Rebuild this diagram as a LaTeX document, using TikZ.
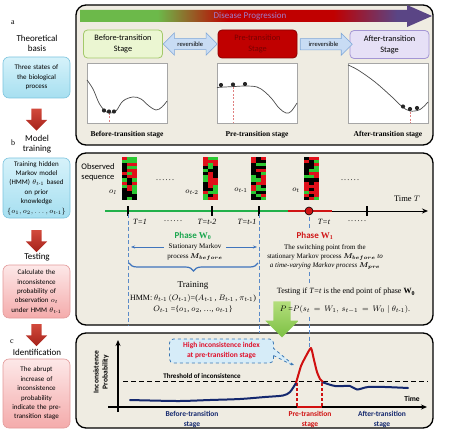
\documentclass[tikz,border=0pt]{standalone}
\usepackage{fontspec}
\setmainfont{Liberation Serif}
\setsansfont{Carlito}
\usepackage{amsmath, amssymb, bm}
\usetikzlibrary{calc,positioning,arrows.meta,shapes.arrows,shapes.callouts,decorations.pathreplacing}

\definecolor{panelbg}{HTML}{EFECE2}
\definecolor{progreen}{HTML}{6CB94A}
\definecolor{prored}{HTML}{C00000}
\definecolor{propurple}{HTML}{5A4585}
\definecolor{progtext}{HTML}{A07CCB}
\definecolor{boxbluetop}{HTML}{D6F2FA}
\definecolor{boxbluebot}{HTML}{A6DFF0}
\definecolor{boxblueline}{HTML}{7CC4DE}
\definecolor{boxpinktop}{HTML}{FDE8E8}
\definecolor{boxpinkbot}{HTML}{F4ABAB}
\definecolor{boxpinkline}{HTML}{E39A9A}
\definecolor{arrowredtop}{HTML}{D24A3C}
\definecolor{arrowredbot}{HTML}{A5221B}
\definecolor{befill}{HTML}{EBF6D2}
\definecolor{beline}{HTML}{A3C96A}
\definecolor{prefill}{HTML}{C00000}
\definecolor{preline}{HTML}{8C0000}
\definecolor{pretext}{HTML}{780000}
\definecolor{afterfill}{HTML}{E6E0F6}
\definecolor{afterline}{HTML}{A496D4}
\definecolor{arrowfill}{HTML}{C8DCF4}
\definecolor{arrowline}{HTML}{7FA7D8}
\definecolor{markpink}{HTML}{E08080}
\definecolor{hmred}{HTML}{E0101A}
\definecolor{hmgreen}{HTML}{2CC832}
\definecolor{axisgreen}{HTML}{22B04A}
\definecolor{axisred}{HTML}{D01414}
\definecolor{dashblue}{HTML}{5A8AC8}
\definecolor{arrowblue}{HTML}{3F74BC}
\definecolor{phasegreen}{HTML}{1AA64E}
\definecolor{phasered}{HTML}{D01818}
\definecolor{greentop}{HTML}{B4DE7C}
\definecolor{greenbot}{HTML}{7CC043}
\definecolor{navyline}{HTML}{14286E}
\definecolor{curvered}{HTML}{D01010}
\definecolor{calloutfill}{HTML}{D6ECF8}
\definecolor{calloutline}{HTML}{3C78B4}
\definecolor{callouttext}{HTML}{E0102A}

\pgfdeclarehorizontalshading{progress}{100bp}{color(0bp)=(progreen); color(36bp)=(progreen); color(46bp)=(prored); color(61bp)=(prored); color(70bp)=(propurple); color(100bp)=(propurple)}

\newcommand{\sixdots}{.\kern1.2pt.\kern1.2pt.\kern1.2pt.\kern1.2pt.\kern1.2pt.}

\begin{document}
\begin{tikzpicture}[%
x=1pt, y=-1pt,
panel/.style={draw=black, line width=1.3pt, fill=panelbg, rounded corners=10pt},
leftbox/.style={rounded corners=6pt, line width=0.6pt, align=center, text width=60pt, inner xsep=3.5pt, inner ysep=2pt, font=\sffamily\fontsize{7}{9.4}\selectfont},
bluebox/.style={leftbox, draw=boxblueline, top color=boxbluetop, bottom color=boxbluebot},
pinkbox/.style={leftbox, draw=boxpinkline, top color=boxpinktop, bottom color=boxpinkbot},
coltitle/.style={font=\sffamily\fontsize{9}{10}\selectfont, align=center},
panelletter/.style={font=\fontsize{8}{9}\selectfont},
redarrow/.style={single arrow, shape border rotate=270, minimum height=22pt, inner sep=5pt, single arrow head extend=5.5pt, top color=arrowredtop, bottom color=arrowredbot},
stagebox/.style={rounded corners=4pt, line width=0.8pt, align=center, minimum height=28pt, minimum width=79pt, font=\sffamily\fontsize{8.3}{11}\selectfont},
linkarrow/.style={draw=arrowline, fill=arrowfill, line width=0.6pt, inner ysep=3pt, inner xsep=1pt, font=\sffamily\fontsize{6.5}{7}\selectfont},
plotframe/.style={draw=gray!70, fill=white, line width=0.5pt},
potential/.style={draw=black!70, line width=0.7pt},
stagemark/.style={draw=markpink, line width=0.5pt, dash pattern=on 2pt off 1.5pt},
stagename/.style={font=\bfseries\fontsize{7.5}{9}\selectfont},
tlabel/.style={font=\itshape\fontsize{8}{9}\selectfont},
dotslabel/.style={font=\fontsize{8}{9}\selectfont},
vdash/.style={draw=dashblue, line width=1pt, dash pattern=on 4pt off 2.5pt},
infoarrow/.style={draw=arrowblue, line width=0.9pt, -{Stealth[length=4pt]}},
phase/.style={font=\sffamily\bfseries\fontsize{9}{10}\selectfont},
note/.style={font=\fontsize{7}{9.3}\selectfont, align=center},
cstage/.style={font=\sffamily\bfseries\fontsize{7.5}{10}\selectfont, align=center},
]
\useasboundingbox (0,0) rectangle (450,433);
%% panels;
\draw[panel] (76,5) rectangle (433,145);
\draw[panel] (76,153) rectangle (433,325);
\draw[panel] (76,333) rectangle (433,428);

%% left column;
\node[panelletter] at (13,23) {a};
\node[coltitle] (basistitle) at (37,43) {Theoretical\\ basis};
\node[bluebox, minimum height=41pt] (basisbox) at (36.5,77.5) {Three states of\\ the biological\\ process};
\node[redarrow] (arrowa) at (36.5,117) {};
\node[panelletter] at (13,143) {b};
\node[coltitle] (modeltitle) at (37,144) {Model\\ training};
\node[bluebox, minimum height=60pt] (modelbox) at (36.5,188) {Training hidden\\ Markov model\\ (HMM) $\theta_{t\text{-}1}$ based\\ on prior\\ knowledge\\ $\{o_1, o_2, \ldots, o_{t\text{-}1}\}$};
\node[redarrow] (arrowb) at (36.5,238.5) {};
\node[coltitle] (testtitle) at (37,257) {Testing};
\node[pinkbox, minimum height=53pt] (testbox) at (36.5,291.5) {Calculate the\\ inconsistence\\ probability of\\ observation $o_t$\\ under HMM $\theta_{t\text{-}1}$};
\node[redarrow] (arrowc) at (36.5,332.5) {};
\node[panelletter] at (12,342) {c};
\node[coltitle] (identtitle) at (37,352) {Identification};
\node[pinkbox, minimum height=69pt] (identbox) at (36.5,393.5) {The abrupt\\ increase of\\ inconsistence\\ probability\\ indicate the pre-\\ transition stage};

%% panel a: progression arrow;
\shade[shading=progress] (80,10) -- (407,10) -- (407,5) -- (432,16) -- (407,27) -- (407,22) -- (80,22) -- cycle;
\node[font=\sffamily\fontsize{9}{10}\selectfont, text=progtext] at (250,16) {Disease Progression};

%% panel a: stages;
\node[stagebox, fill=befill, draw=beline] (before) at (123,44) {Before-transition\\ Stage};
\node[stagebox, fill=prefill, draw=preline, text=pretext] (pre) at (257.5,44) {Pre-transition\\ Stage};
\node[stagebox, fill=afterfill, draw=afterline] (after) at (389.5,44.5) {After-transition\\ Stage};
\node[linkarrow, double arrow, minimum height=54pt, double arrow head extend=5.5pt] (rev) at ($(before.east)!0.5!(pre.west)$) {reversible};
\node[linkarrow, single arrow, minimum height=52pt, single arrow head extend=5.5pt] (irrev) at ($(pre.east)!0.5!(after.west)$) {irreversible};

%% panel a: potential plots;
\foreach \px in {87,217,348} \draw[plotframe] (\px,63) rectangle ++(80,60);
\draw[stagemark] (109,113) -- (109,123);
\draw[stagemark] (233,87) -- (233,123);
\draw[stagemark] (410,112) -- (410,123);
\draw[potential] plot[smooth, tension=0.6] coordinates {(87,80) (93,89) (99,103) (105,111) (110,113) (116,111) (123,101) (133,97) (141,99) (149,106) (156,110) (162,107) (167,101)};
\draw[potential] plot[smooth, tension=0.6] coordinates {(217,87.5) (225,87) (235,86.5) (245,86) (257,87) (265,92) (272,99) (279,108) (286,113) (291,111.5) (297,103)};
\draw[potential] plot[smooth, tension=0.6] coordinates {(348,65) (358,70) (375,82) (392,97) (402,106.5) (410,111) (420,109.5) (428,102)};
\foreach \bx/\by in {104/110.5, 109/111.5, 114/111.5, 221/85, 233/84.5, 245/84, 403/106.5, 410/109, 417/108}
  \fill[black!85] (\bx,\by) circle (2.1);
\node[stagename] at (127,135) {Before-transition stage};
\node[stagename] at (257,135) {Pre-transition stage};
\node[stagename] at (388,135) {After-transition stage};

%% panel b: observed sequence;
\node[font=\sffamily\fontsize{8.5}{10}\selectfont, align=left] at (98,172) {Observed\\ sequence};
\pgfmathsetseed{17}
\foreach \hx in {122,203,251,304} {
  \foreach \hi in {0,1,2} {
    \foreach \hj in {0,...,13} {
      \pgfmathrandominteger{\hmcol}{0}{2}
      \ifcase\hmcol\relax \colorlet{cellc}{hmred}\or \colorlet{cellc}{hmgreen}\or \colorlet{cellc}{black}\fi
      \fill[cellc] (\hx+\hi*5,157+\hj*3.07) rectangle ++(5,3.07);
    }
  }
}
\node[tlabel] at (113,192) {$o_{\mathit{1}}$};
\node[tlabel] at (192,192) {$o_{t\text{-}2}$};
\node[tlabel] at (241,190) {$o_{t\text{-}1}$};
\node[tlabel] at (296,190) {$o_t$};
\node[dotslabel] at (165,180) {\sixdots};
\node[dotslabel] at (350,180) {\sixdots};

%% panel b: time axis;
\draw[axisgreen, line width=2pt] (105,211) -- (288,211);
\draw[axisred, line width=2pt] (288,211) -- (332,211);
\draw[line width=1pt, -{Stealth[length=6pt,width=5pt]}] (332,211) -- (428,211);
\foreach \tx in {128,212,259,367} \draw[line width=1.2pt] (\tx,206) -- (\tx,216);
\node[circle, fill=axisred, draw=black, line width=0.6pt, minimum size=8pt, inner sep=0pt] (switch) at (309,211) {};
\node[font=\fontsize{8.5}{10}\selectfont] at (407,199) {Time $T$};
\node[tlabel] at (140,222) {T=1};
\node[dotslabel] at (173,221) {\sixdots};
\node[tlabel] at (207,222) {T=t-2};
\node[tlabel] at (247,222) {T=t-1};
\node[tlabel] at (324,222) {T=t};
\node[dotslabel] at (357,221) {\sixdots};
\node[phase, text=phasegreen] at (193,236) {Phase $\mathbf{W}_{\mathbf{0}}$};
\node[phase, text=phasered] at (315,236) {Phase $\mathbf{W}_{\mathbf{1}}$};

%% panel b: dashed markers;
\draw[vdash] (128,214) -- (128,325);
\draw[vdash] (259,214) -- (259,333);
\draw[vdash] (309,217) -- (309,229);
\draw[vdash] (309,272) -- (309,284);
\draw[vdash] (309,317) -- (309,348);

%% panel b: training part;
\node[note] (stat) at (195,252) {Stationary Markov\\ process $\bm{M}_{\bm{before}}$};
\coordinate (statl) at (131,247);
\coordinate (statr) at (257,247);
\draw[infoarrow] (stat.west |- statl) -- (statl);
\draw[infoarrow] (stat.east |- statr) -- (statr);
\draw[draw=arrowblue, line width=1.2pt, decorate, decoration={brace, amplitude=8pt}] (258,263) -- (129,263);
\node[font=\fontsize{9}{10}\selectfont] at (193,285) {Training};
\node[font=\fontsize{8}{9}\selectfont] at (193,298) {HMM: $\theta_{t\text{-}1}\,(O_{t\text{-}1})$=($A_{t\text{-}1}$\,, $B_{t\text{-}1}$\,, $\pi_{t\text{-}1}$)};
\node[font=\fontsize{8}{9}\selectfont] at (193,309) {$O_{t\text{-}1}$ =\{$o_1$, $o_2$, \ldots, $o_{t\text{-}1}$\}};

%% panel b: testing part;
\node[note] (swtext) at (325,257) {The switching point from the\\ stationary Markov process $\bm{M}_{\bm{before}}$ \textit{to}\\ \textit{a time-varying Markov process} $\bm{M}_{\bm{pre}}$};
\node[font=\fontsize{8}{9}\selectfont] (testing) at (346,292) {Testing if \textit{T=t} is the end point of phase $\mathbf{W}_{\mathbf{0}}$};
\node[single arrow, shape border rotate=270, minimum height=36pt, inner sep=8.5pt, single arrow head extend=8pt, top color=greentop, bottom color=greenbot] (down) at (282,315) {};
\node[font=\fontsize{8}{9}\selectfont] (prob) at (345,309) {$P$ =$P(s_t\, =\, W_1,\, s_{t-1}\, =\, W_0 \mid \theta_{t\text{-}1})$.};

%% panel c: axes;
\draw[line width=1.2pt, -{Stealth[length=6pt,width=5pt]}] (108,407) -- (427,407);
\draw[line width=1.2pt, -{Stealth[length=6pt,width=5pt]}] (118,412) -- (118,340);
\node[rotate=90, font=\sffamily\bfseries\fontsize{7.5}{9}\selectfont, align=center] at (101,372) {Inconsistence\\ Probability};
\draw[line width=1pt, dash pattern=on 5pt off 3pt] (123,381) -- (428,381);
\node[font=\sffamily\bfseries\fontsize{7}{8}\selectfont] at (202,376) {Threshold of inconsistence};
\node[font=\sffamily\bfseries\fontsize{7.5}{8}\selectfont] at (412,399) {Time};

%% panel c: inconsistence curve;
\draw[curvered, line width=1.2pt, dash pattern=on 3pt off 2pt] (297,383) -- (297,407);
\draw[curvered, line width=1.2pt, dash pattern=on 3pt off 2pt] (322,383) -- (322,407);
\draw[curvered, line width=1.8pt] (297,407) -- (322,407);
\draw[navyline, line width=2pt, line cap=round] plot[smooth] coordinates {(130,400) (150,400.5) (180,401) (210,400) (240,399) (265,397) (283,395.5) (290,392) (296,383)};
\draw[navyline, line width=2pt, line cap=round] plot[smooth] coordinates {(322,382) (335,386) (350,386) (357,389.5) (368,387) (385,387) (408,388)};
\draw[curvered, line width=2pt, line join=round] plot[smooth, tension=0.3] coordinates {(296,383) (301,366) (306,356) (311,348) (314,360) (317,372) (320,379) (323,382)};
\node[rectangle callout, callout absolute pointer={(296,367)}, rounded corners=4pt, draw=calloutline, dashed, line width=0.8pt, fill=calloutfill, text=callouttext, font=\sffamily\bfseries\fontsize{7.5}{10}\selectfont, align=center, minimum width=104pt, minimum height=24pt] (high) at (221.5,351) {High inconsistence index\\ at pre-transition stage};
\node[cstage, text=navyline] at (192,419) {Before-transition\\ stage};
\node[cstage, text=curvered] at (310,419) {Pre-transition\\ stage};
\node[cstage, text=navyline] at (382,419) {After-transition\\ stage};
\end{tikzpicture}
\end{document}
